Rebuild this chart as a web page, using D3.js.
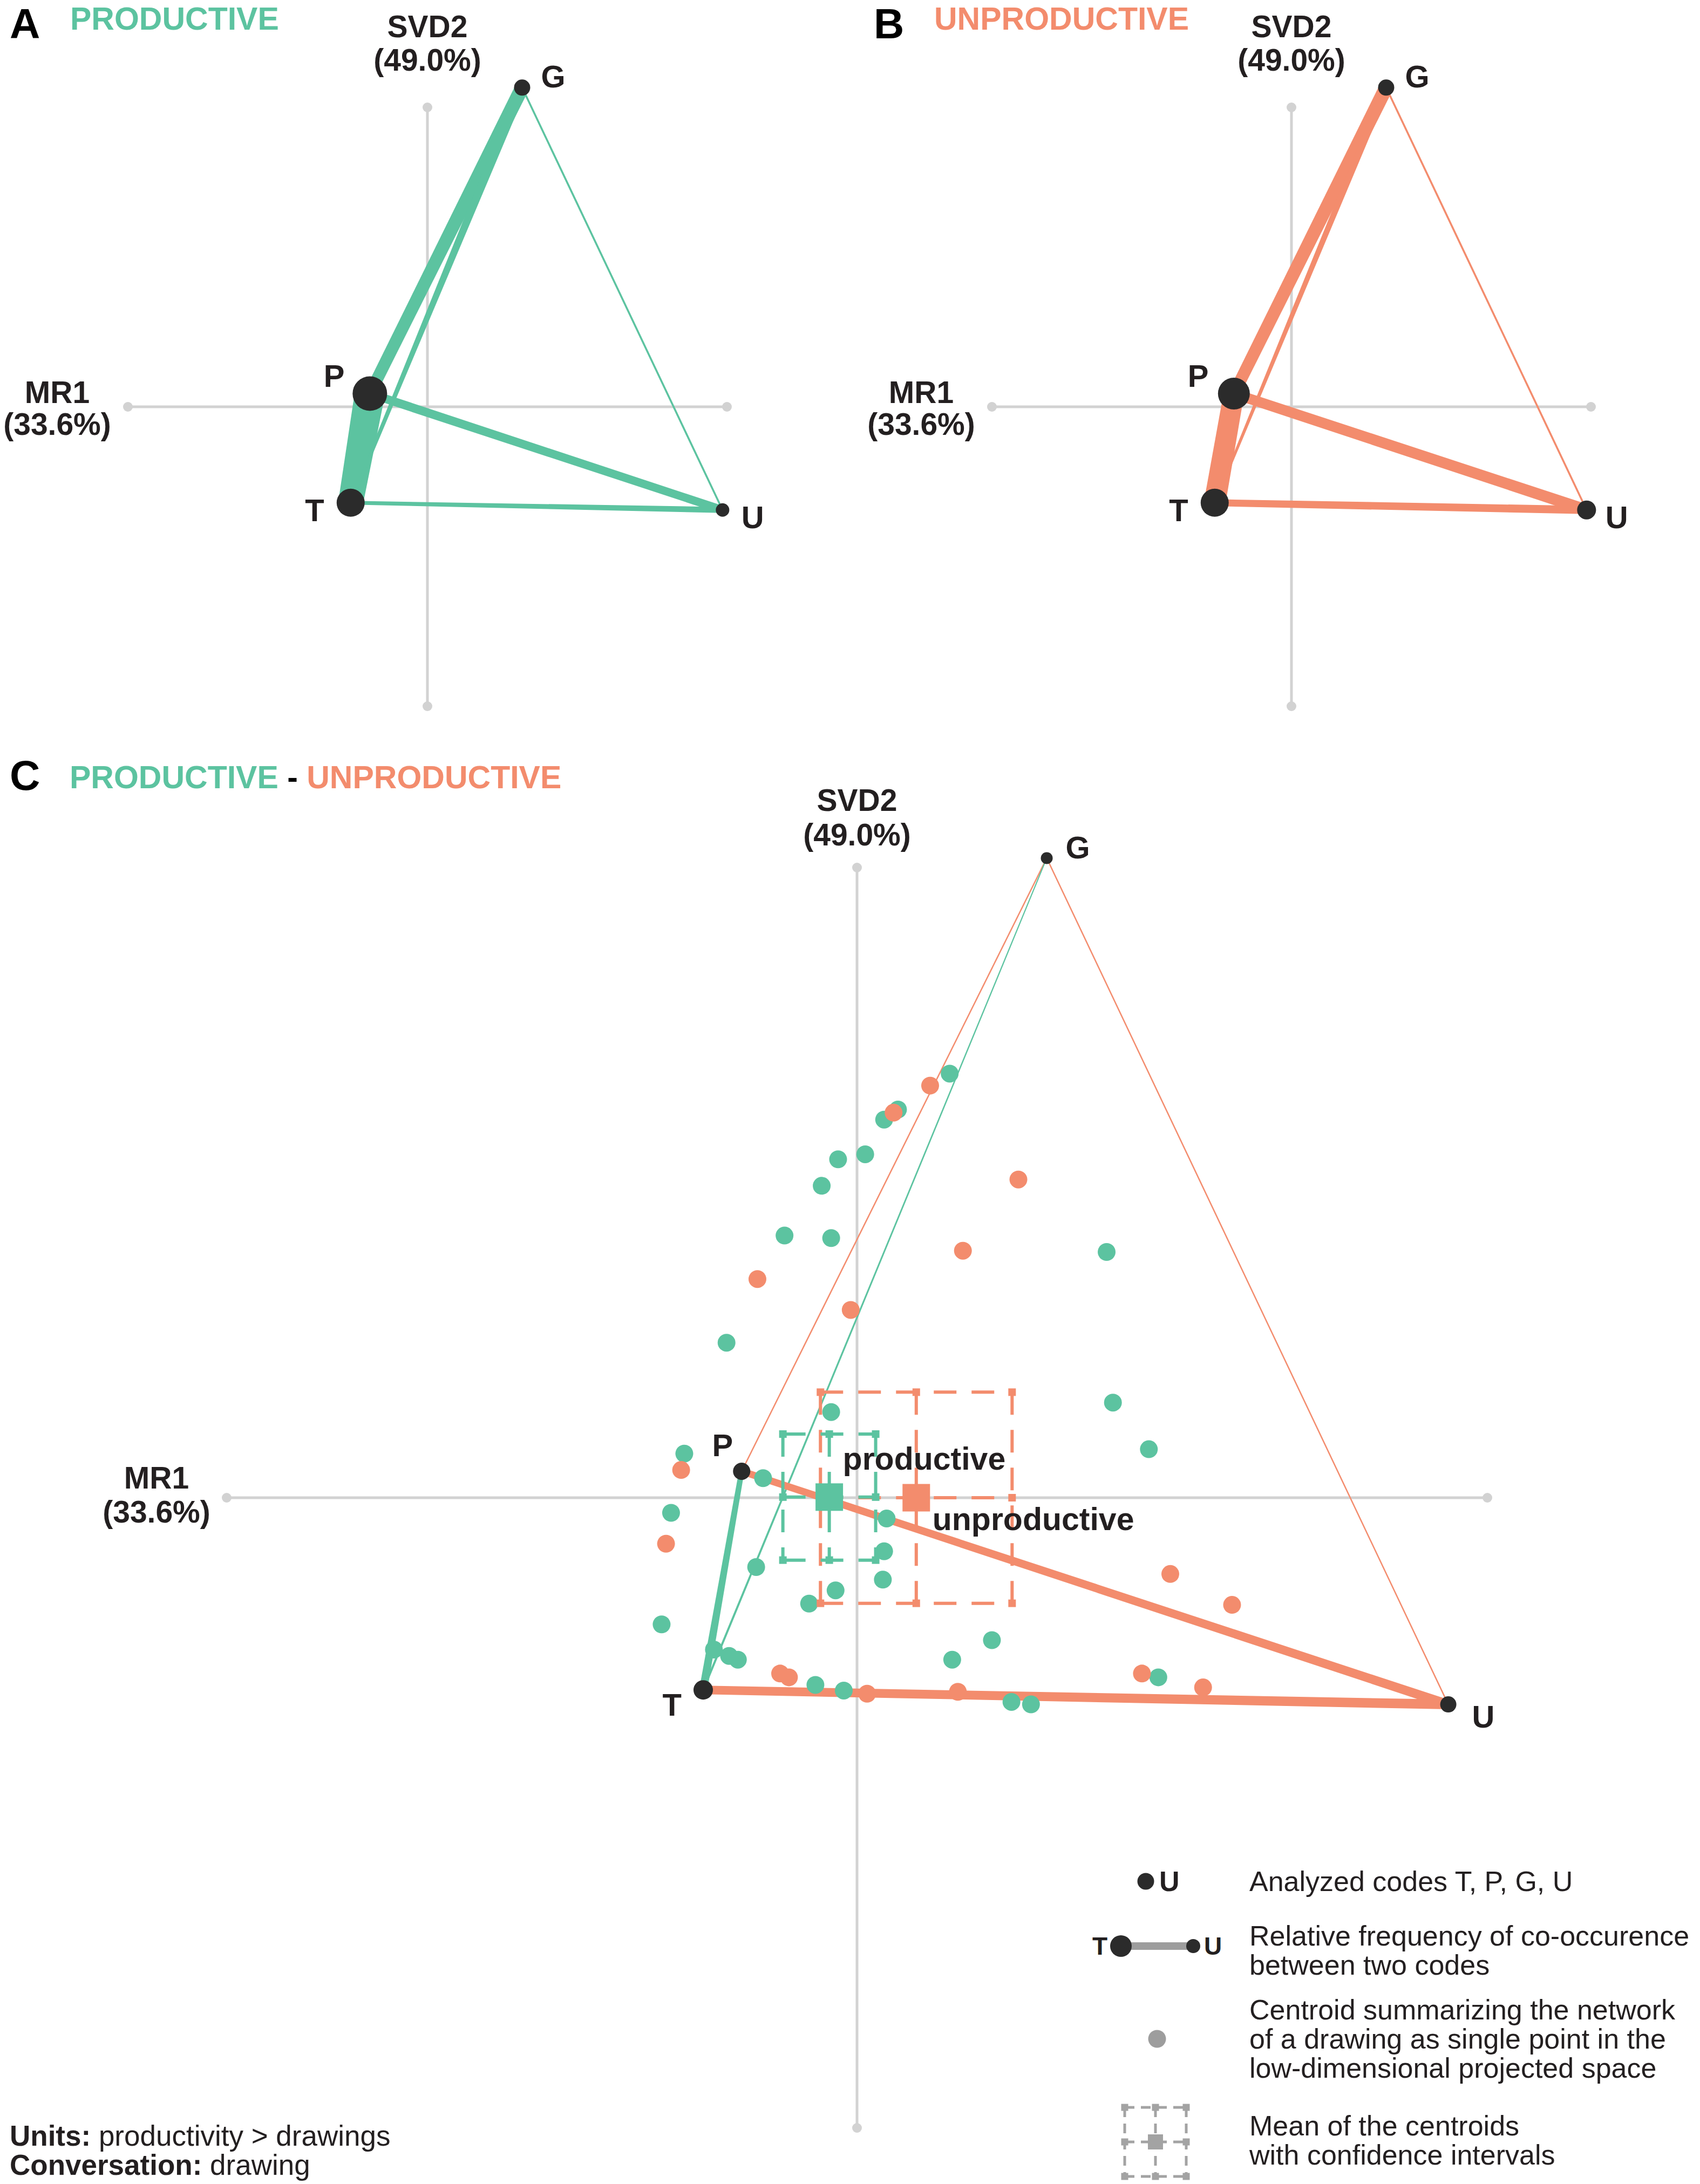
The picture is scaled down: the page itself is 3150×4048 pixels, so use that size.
<!DOCTYPE html>
<html>
<head>
<meta charset="utf-8">
<script src="https://cdn.jsdelivr.net/npm/d3@7"></script>
<style>
  body { margin: 0; background: #fff; }
  svg { display: block; font-family: "Liberation Sans", Arial, Helvetica, sans-serif; }
</style>
</head>
<body>
<div id="chart"></div>
<script>
// ---------------- data ----------------
var codes = ["T", "P", "G", "U"];
// code positions in the projected space (MR1, SVD2)
var codeMR1 = [-0.244, -0.183, 0.301, 0.938];
var codeSVD2 = [-0.305, 0.042, 1.015, -0.328];

// node weights (self co-occurrence) per network, order as codes
var nodeProductive = [0.26, 0.32, 0.15, 0.125];
var nodeUnproductive = [0.26, 0.295, 0.15, 0.175];
var nodeSubtracted = [0.18, 0.16, 0.11, 0.15];

// edges: [code a, code b]; weights read at end a and end b
var edgePairs = [["P", "T"], ["P", "G"], ["T", "G"], ["P", "U"], ["T", "U"], ["G", "U"]];
var edgeProductive = [[0.56, 0.46], [0.22, 0.26], [0.05, 0.18], [0.16, 0.15], [0.07, 0.11], [0.035, 0.035]];
var edgeUnproductive = [[0.38, 0.40], [0.22, 0.26], [0.04, 0.14], [0.19, 0.21], [0.13, 0.15], [0.035, 0.035]];
// positive = stronger in productive, negative = stronger in unproductive
var edgeSubtracted = [[0.10, 0.15], [-0.025, -0.025], [0.04, 0.02], [-0.13, -0.17], [-0.16, -0.18], [-0.025, -0.025]];

// centroids of single drawings (MR1, SVD2)
var productiveCentroids = [
  [0.147, 0.673], [0.065, 0.616], [0.043, 0.600], [0.013, 0.545], [-0.030, 0.537],
  [-0.056, 0.495], [-0.115, 0.416], [-0.041, 0.412], [0.396, 0.390], [-0.207, 0.246],
  [0.406, 0.151], [-0.041, 0.136], [0.463, 0.077], [-0.274, 0.070], [-0.149, 0.031],
  [-0.295, -0.024], [0.047, -0.033], [0.043, -0.085], [0.041, -0.130], [-0.160, -0.110],
  [-0.034, -0.147], [-0.076, -0.168], [-0.310, -0.201], [0.214, -0.226], [-0.227, -0.241],
  [-0.203, -0.251], [-0.189, -0.257], [0.151, -0.257], [-0.066, -0.297], [-0.021, -0.306],
  [0.245, -0.324], [0.276, -0.328], [0.478, -0.285]
];
var unproductiveCentroids = [
  [0.116, 0.654], [0.058, 0.611], [0.256, 0.505], [0.168, 0.392], [-0.158, 0.347],
  [-0.010, 0.298], [-0.279, 0.044], [-0.303, -0.073], [0.497, -0.121], [0.595, -0.170],
  [-0.122, -0.279], [-0.108, -0.285], [0.016, -0.311], [0.160, -0.308], [0.452, -0.279],
  [0.549, -0.301]
];

// group means with confidence intervals (half widths)
var groupNames = ["productive", "unproductive"];
var groupMeanMR1 = [-0.044, 0.094];
var groupMeanSVD2 = [0.001, 0.000];
var groupCIMR1 = [0.0736, 0.152];
var groupCISVD2 = [0.100, 0.1675];

var axisNames = ["MR1", "SVD2"];
var axisVariance = ["(33.6%)", "(49.0%)"];

var legendTexts = [
  ["Analyzed codes T, P, G, U"],
  ["Relative frequency of co-occurence", "between two codes"],
  ["Centroid summarizing the network", "of a drawing as single point in the", "low-dimensional projected space"],
  ["Mean of the centroids", "with confidence intervals"]
];

// ---------------- style ----------------
var GREEN = "#5cc3a0", ORANGE = "#f38c6d", NODE = "#2b2b2b", AXIS = "#d2d2d2", INK = "#231f20";
var W = 3150, H = 4048;

var svg = d3.select("#chart").append("svg")
  .attr("width", W).attr("height", H)
  .attr("viewBox", "0 0 " + W + " " + H);

var edgeWidth = d3.scaleLinear().domain([0, 1]).range([0, 100]);
var nodeRadius = d3.scaleLinear().domain([0, 1]).range([0, 100]);

function codeIndex(c) { return codes.indexOf(c); }

function edgePolygon(x0, y0, x1, y1, w0, w1) {
  var dx = x1 - x0, dy = y1 - y0, L = Math.hypot(dx, dy);
  var nx = -dy / L, ny = dx / L;
  return [
    [x0 + nx * w0 / 2, y0 + ny * w0 / 2],
    [x1 + nx * w1 / 2, y1 + ny * w1 / 2],
    [x1 - nx * w1 / 2, y1 - ny * w1 / 2],
    [x0 - nx * w0 / 2, y0 - ny * w0 / 2]
  ].map(function (p) { return p.join(","); }).join(" ");
}

function drawAxes(g, x, y, lab) {
  var xd = x.domain(), yd = y.domain();
  g.append("line").attr("x1", x(xd[0])).attr("x2", x(xd[1]))
    .attr("y1", y(0)).attr("y2", y(0))
    .style("stroke", AXIS).style("stroke-width", 5);
  g.append("line").attr("x1", x(0)).attr("x2", x(0))
    .attr("y1", y(yd[0])).attr("y2", y(yd[1]))
    .style("stroke", AXIS).style("stroke-width", 5);
  var ends = [[x(xd[0]), y(0)], [x(xd[1]), y(0)], [x(0), y(yd[0])], [x(0), y(yd[1])]];
  g.selectAll("circle.axisend").data(ends).enter().append("circle")
    .attr("class", "axisend")
    .attr("cx", function (d) { return d[0]; })
    .attr("cy", function (d) { return d[1]; })
    .attr("r", 9).style("fill", AXIS);

  // axis titles
  [[axisNames[1], lab.svdX, lab.svdY1], [axisVariance[1], lab.svdX, lab.svdY2],
   [axisNames[0], lab.mrX, lab.mrY1], [axisVariance[0], lab.mrX, lab.mrY2]].forEach(function (t) {
    g.append("text").attr("x", t[1]).attr("y", t[2])
      .attr("text-anchor", "middle")
      .style("font-size", "57px").style("font-weight", "bold").style("fill", INK)
      .text(t[0]);
  });
}

var labelOffset = {
  net: { T: [-49, 34, "end"], P: [-47, -13, "end"], G: [35, 0, "start"], U: [35, 34, "start"] },
  sub: { T: [-40, 48, "end"], P: [-16, -28, "end"], G: [35, 1, "start"], U: [44, 43, "start"] }
};

function drawNetwork(g, x, y, weights, nodeW, colorOf, offsets) {
  g.append("g").selectAll("polygon").data(edgePairs).enter().append("polygon")
    .attr("points", function (d, i) {
      var a = codeIndex(d[0]), b = codeIndex(d[1]);
      return edgePolygon(x(codeMR1[a]), y(codeSVD2[a]), x(codeMR1[b]), y(codeSVD2[b]),
        edgeWidth(Math.abs(weights[i][0])), edgeWidth(Math.abs(weights[i][1])));
    })
    .style("fill", function (d, i) { return colorOf(weights[i][0] + weights[i][1]); });
  return function drawNodes() {
    var ng = g.append("g");
    ng.selectAll("circle").data(codes).enter().append("circle")
      .attr("cx", function (d, i) { return x(codeMR1[i]); })
      .attr("cy", function (d, i) { return y(codeSVD2[i]); })
      .attr("r", function (d, i) { return nodeRadius(nodeW[i]); })
      .style("fill", NODE);
    ng.selectAll("text").data(codes).enter().append("text")
      .attr("x", function (d, i) { return x(codeMR1[i]) + offsets[d][0]; })
      .attr("y", function (d, i) { return y(codeSVD2[i]) + offsets[d][1]; })
      .attr("text-anchor", function (d) { return offsets[d][2]; })
      .style("font-size", "58px").style("font-weight", "bold").style("fill", INK)
      .text(function (d) { return d; });
  };
}

// ---------------- panels A and B ----------------
var small = 0.952;
function panelScales(cx) {
  return {
    x: d3.scaleLinear().domain([-small, small]).range([cx - 555, cx + 555]),
    y: d3.scaleLinear().domain([-small, small]).range([1309, 199])
  };
}

[
  { cx: 792, letter: "A", title: "PRODUCTIVE", color: GREEN, edges: edgeProductive, nodes: nodeProductive },
  { cx: 2393, letter: "B", title: "UNPRODUCTIVE", color: ORANGE, edges: edgeUnproductive, nodes: nodeUnproductive }
].forEach(function (p) {
  var s = panelScales(p.cx);
  var g = svg.append("g");
  g.append("text").attr("x", p.cx - 774).attr("y", 71)
    .style("font-size", "78px").style("font-weight", "bold").style("fill", "#000")
    .text(p.letter);
  g.append("text").attr("x", p.cx - 662).attr("y", 55)
    .style("font-size", "59px").style("font-weight", "bold").style("fill", p.color)
    .text(p.title);
  drawAxes(g, s.x, s.y, { svdX: p.cx, svdY1: 69, svdY2: 131, mrX: p.cx - 686, mrY1: 747, mrY2: 806 });
  var nodes = drawNetwork(g, s.x, s.y, p.edges, p.nodes, function () { return p.color; }, labelOffset.net);
  nodes();
});

// ---------------- panel C ----------------
var xC = d3.scaleLinear().domain([-1, 1]).range([420, 2756]);
var yC = d3.scaleLinear().domain([-1, 1]).range([3944, 1608]);
var gC = svg.append("g");

gC.append("text").attr("x", 18).attr("y", 1464)
  .style("font-size", "78px").style("font-weight", "bold").style("fill", "#000").text("C");
var ct = gC.append("text").attr("x", 129).attr("y", 1461)
  .style("font-size", "59px").style("font-weight", "bold");
ct.append("tspan").style("fill", GREEN).text("PRODUCTIVE");
ct.append("tspan").style("fill", "#000").text(" - ");
ct.append("tspan").style("fill", ORANGE).text("UNPRODUCTIVE");

drawAxes(gC, xC, yC, { svdX: 1588, svdY1: 1503, svdY2: 1567, mrX: 290, mrY1: 2759, mrY2: 2822 });
var drawNodesC = drawNetwork(gC, xC, yC, edgeSubtracted, nodeSubtracted,
  function (v) { return v >= 0 ? GREEN : ORANGE; }, labelOffset.sub);

// centroids
[[productiveCentroids, GREEN], [unproductiveCentroids, ORANGE]].forEach(function (set) {
  gC.append("g").selectAll("circle").data(set[0]).enter().append("circle")
    .attr("cx", function (d) { return xC(d[0]); })
    .attr("cy", function (d) { return yC(d[1]); })
    .attr("r", 16.5)
    .style("fill", set[1]);
});

// means with confidence intervals
function ciBox(g, mx, my, hx, hy, color, opt) {
  var xs = [mx - hx, mx, mx + hx], ys = [my - hy, my, my + hy];
  var lines = [];
  xs.forEach(function (xv) { lines.push([xv, ys[0], xv, ys[2]]); });
  ys.forEach(function (yv) { lines.push([xs[0], yv, xs[2], yv]); });
  g.selectAll(null).data(lines).enter().append("line")
    .attr("x1", function (d) { return d[0]; }).attr("y1", function (d) { return d[1]; })
    .attr("x2", function (d) { return d[2]; }).attr("y2", function (d) { return d[3]; })
    .style("stroke", color).style("stroke-width", opt.sw)
    .style("stroke-dasharray", opt.dash);
  var marks = [];
  xs.forEach(function (xv, i) { ys.forEach(function (yv, j) { if (!(i === 1 && j === 1)) marks.push([xv, yv]); }); });
  g.selectAll(null).data(marks).enter().append("rect")
    .attr("x", function (d) { return d[0] - opt.mk / 2; })
    .attr("y", function (d) { return d[1] - opt.mk / 2; })
    .attr("width", opt.mk).attr("height", opt.mk)
    .style("fill", color);
  g.append("rect")
    .attr("x", mx - opt.mean / 2).attr("y", my - opt.mean / 2)
    .attr("width", opt.mean).attr("height", opt.mean)
    .style("fill", color);
}

var groupColors = [GREEN, ORANGE];
var groupLabelOffset = [[25, -51], [30, 60]];
[1, 0].forEach(function (i) {
  var mx = xC(groupMeanMR1[i]), my = yC(groupMeanSVD2[i]);
  var hx = xC(groupMeanMR1[i] + groupCIMR1[i]) - mx;
  var hy = my - yC(groupMeanSVD2[i] + groupCISVD2[i]);
  ciBox(gC.append("g"), mx, my, hx, hy, groupColors[i], { sw: 6, dash: "42,28", mk: 14, mean: 51 });
});

drawNodesC();

groupNames.forEach(function (name, i) {
  gC.append("text")
    .attr("x", xC(groupMeanMR1[i]) + groupLabelOffset[i][0])
    .attr("y", yC(groupMeanSVD2[i]) + groupLabelOffset[i][1])
    .style("font-size", "59px").style("font-weight", "bold").style("fill", INK)
    .text(name);
});

// ---------------- legend ----------------
var lg = svg.append("g");
var GRAY = "#9d9d9d";
var textX = 2315;
var baselines = [[3505], [3606, 3660], [3743, 3797, 3851], [3958, 4012]];
legendTexts.forEach(function (lines, i) {
  lines.forEach(function (t, j) {
    lg.append("text").attr("x", textX).attr("y", baselines[i][j])
      .style("font-size", "52px").style("fill", INK).text(t);
  });
});
// item 1: code node
lg.append("circle").attr("cx", 2123).attr("cy", 3487).attr("r", 15.5).style("fill", NODE);
lg.append("text").attr("x", 2148).attr("y", 3505)
  .style("font-size", "52px").style("font-weight", "bold").style("fill", INK).text("U");
// item 2: edge
lg.append("line").attr("x1", 2077).attr("x2", 2211).attr("y1", 3607).attr("y2", 3607)
  .style("stroke", GRAY).style("stroke-width", 14);
lg.append("circle").attr("cx", 2077).attr("cy", 3607).attr("r", 20).style("fill", NODE);
lg.append("circle").attr("cx", 2211).attr("cy", 3607).attr("r", 13).style("fill", NODE);
lg.append("text").attr("x", 2052).attr("y", 3623).attr("text-anchor", "end")
  .style("font-size", "46px").style("font-weight", "bold").style("fill", INK).text("T");
lg.append("text").attr("x", 2231).attr("y", 3623)
  .style("font-size", "46px").style("font-weight", "bold").style("fill", INK).text("U");
// item 3: centroid
lg.append("circle").attr("cx", 2144).attr("cy", 3779).attr("r", 16.5).style("fill", GRAY);
// item 4: mean with CI
ciBox(lg.append("g"), 2141, 3970, 57, 64, "#a3a3a3", { sw: 5, dash: "18,12", mk: 13, mean: 28 });

// ---------------- footer ----------------
[["Units:", " productivity > drawings", 3977], ["Conversation:", " drawing", 4031]].forEach(function (f) {
  var t = svg.append("text").attr("x", 18).attr("y", f[2])
    .style("font-size", "53px").style("fill", INK);
  t.append("tspan").style("font-weight", "bold").text(f[0]);
  t.append("tspan").text(f[1]);
});
</script>
</body>
</html>
